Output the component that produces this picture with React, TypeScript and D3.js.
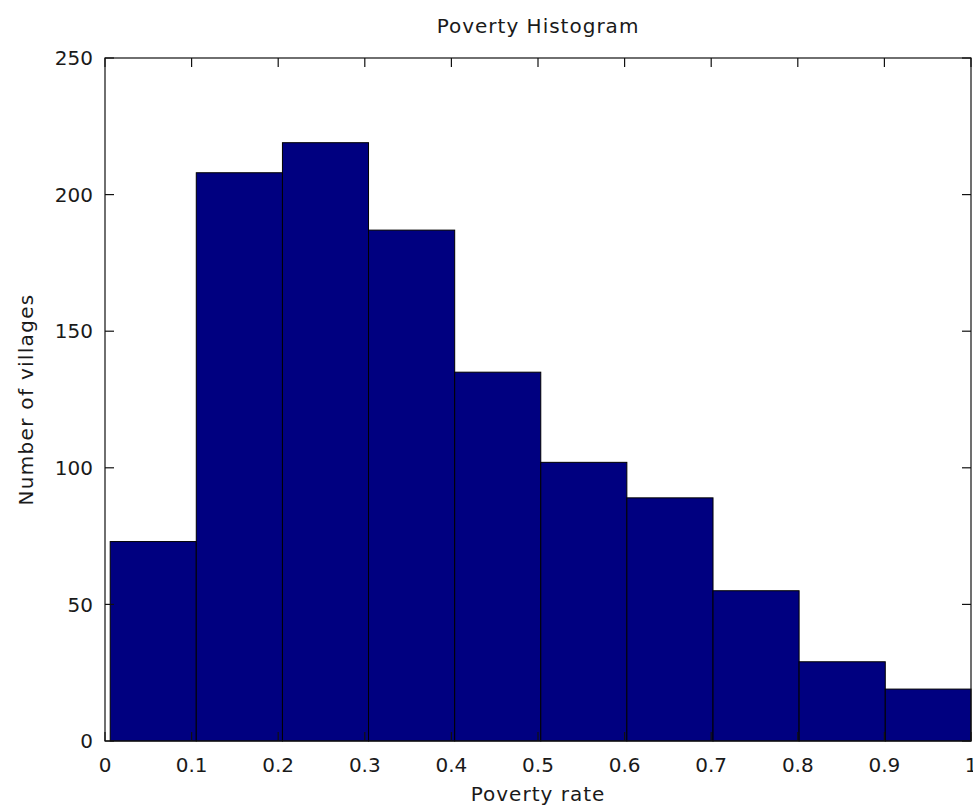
import React, { useEffect, useRef } from 'react';
import * as d3 from 'd3';

// bin edges (poverty rate) and counts
const binEdges = [0.006, 0.1054, 0.2049, 0.3043, 0.4038, 0.5032, 0.6026, 0.7021, 0.8015, 0.901, 1.0];
const counts = [73, 208, 219, 187, 135, 102, 89, 55, 29, 19];
const xTicks = [0, 0.1, 0.2, 0.3, 0.4, 0.5, 0.6, 0.7, 0.8, 0.9, 1];
const yTicks = [0, 50, 100, 150, 200, 250];

const title = 'Poverty Histogram';
const xLabel = 'Poverty rate';
const yLabel = 'Number of villages';

const App = () => {
  const width = 973;
  const height = 811;
  const margin = { top: 58, right: 2, bottom: 70, left: 105 };
  const w = width - margin.left - margin.right;
  const h = height - margin.top - margin.bottom;
  const ref = useRef(null);

  useEffect(() => {
    const g = d3.select(ref.current);
    g.selectAll('*').remove();

    const xScale = d3.scaleLinear().domain([0, 1]).range([0, w]);
    const yScale = d3.scaleLinear().domain([0, 250]).range([h, 0]);
    const font = '"DejaVu Sans", sans-serif';
    const txt = '#1a1a1a';
    const tickLen = 9;

    const bins = counts.map((c, i) => ({ x0: binEdges[i], x1: binEdges[i + 1], c }));

    // bars
    g.selectAll('rect.bar')
      .data(bins)
      .join('rect')
      .attr('class', 'bar')
      .attr('x', (d) => xScale(d.x0))
      .attr('y', (d) => yScale(d.c))
      .attr('width', (d) => xScale(d.x1) - xScale(d.x0))
      .attr('height', (d) => yScale(0) - yScale(d.c))
      .attr('fill', '#000080')
      .attr('stroke', '#000')
      .attr('stroke-width', 1);

    // box
    g.append('rect')
      .attr('x', 0)
      .attr('y', 0)
      .attr('width', w)
      .attr('height', h)
      .attr('fill', 'none')
      .attr('stroke', '#111')
      .attr('stroke-width', 1.2);

    // ticks on all four sides, pointing inward
    const tickG = g.append('g').attr('stroke', '#111').attr('stroke-width', 1.2);
    xTicks.forEach((t) => {
      const x = xScale(t);
      tickG.append('line').attr('x1', x).attr('x2', x).attr('y1', h).attr('y2', h - tickLen);
      tickG.append('line').attr('x1', x).attr('x2', x).attr('y1', 0).attr('y2', tickLen);
    });
    yTicks.forEach((t) => {
      const y = yScale(t);
      tickG.append('line').attr('x1', 0).attr('x2', tickLen).attr('y1', y).attr('y2', y);
      tickG.append('line').attr('x1', w).attr('x2', w - tickLen).attr('y1', y).attr('y2', y);
    });

    // tick labels
    g.selectAll('text.xt')
      .data(xTicks)
      .join('text')
      .attr('class', 'xt')
      .attr('x', (d) => xScale(d))
      .attr('y', h + 31)
      .attr('text-anchor', 'middle')
      .style('font-family', font)
      .style('font-size', '20px')
      .attr('fill', txt)
      .text((d) => d3.format('~g')(d));

    g.selectAll('text.yt')
      .data(yTicks)
      .join('text')
      .attr('class', 'yt')
      .attr('x', -12)
      .attr('y', (d) => yScale(d))
      .attr('dy', '0.36em')
      .attr('text-anchor', 'end')
      .style('font-family', font)
      .style('font-size', '20px')
      .attr('fill', txt)
      .text((d) => d);

    // title and axis labels
    g.append('text')
      .attr('x', w / 2)
      .attr('y', -25)
      .attr('text-anchor', 'middle')
      .style('font-family', font)
      .style('font-size', '20px')
      .style('letter-spacing', '1px')
      .attr('fill', txt)
      .text(title);

    g.append('text')
      .attr('x', w / 2)
      .attr('y', h + 60)
      .attr('text-anchor', 'middle')
      .style('font-family', font)
      .style('font-size', '20px')
      .style('letter-spacing', '1px')
      .attr('fill', txt)
      .text(xLabel);

    g.append('text')
      .attr('transform', 'rotate(-90)')
      .attr('x', -h / 2)
      .attr('y', -margin.left + 33)
      .attr('text-anchor', 'middle')
      .style('font-family', font)
      .style('font-size', '20px')
      .style('letter-spacing', '1.3px')
      .attr('fill', txt)
      .text(yLabel);
  }, [w, h, margin.left]);

  return (
    <svg
      width={width}
      height={height}
      style={{ position: 'absolute', left: 0, top: 0, background: '#fff' }}
    >
      <g ref={ref} transform={`translate(${margin.left}, ${margin.top})`} />
    </svg>
  );
};

export default App;
